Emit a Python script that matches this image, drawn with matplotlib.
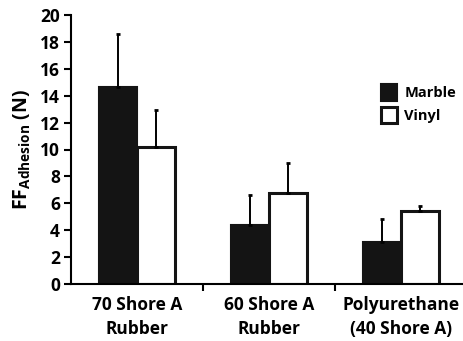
import matplotlib
matplotlib.use("Agg")
import matplotlib.pyplot as plt
import numpy as np

# friction force due to adhesion, mean and upper error per pad material
categories = ["70 Shore A\nRubber", "60 Shore A\nRubber", "Polyurethane\n(40 Shore A)"]
marble = [14.65, 4.4, 3.15]
marble_err = [3.95, 2.2, 1.7]
vinyl = [10.2, 6.8, 5.45]
vinyl_err = [2.7, 2.2, 0.33]

plt.rcParams["font.family"] = ["Open Sans", "DejaVu Sans"]
plt.rcParams["font.weight"] = "bold"
plt.rcParams["mathtext.fontset"] = "custom"
plt.rcParams["mathtext.rm"] = "Open Sans:bold"
plt.rcParams["mathtext.bf"] = "Open Sans:bold"

fig = plt.figure(figsize=(4.63, 3.41), dpi=100)
ax = fig.add_axes([71 / 463, 1 - 284 / 341, 396 / 463, 269 / 341])

x = np.arange(len(categories))
w = 0.29
ek = dict(elinewidth=1.4, capsize=1.2, capthick=2, ecolor="black")
ax.bar(x - w / 2, marble, w, color="#141414", edgecolor="#141414", linewidth=1.5,
       label="Marble")
ax.errorbar(x - w / 2, marble, yerr=[np.zeros(3), marble_err], fmt="none", **ek)
ax.bar(x + w / 2, vinyl, w, color="white", edgecolor="#141414", linewidth=2.2,
       label="Vinyl")
ax.errorbar(x + w / 2, vinyl, yerr=[np.zeros(3), vinyl_err], fmt="none", **ek)

ax.set_xlim(-0.5, 2.5)
ax.set_ylim(0, 20)
ax.set_yticks(range(0, 21, 2))
ax.set_xticks(x)
ax.set_xticklabels(categories, fontsize=12.5, fontweight="bold", linespacing=1.4)
ax.set_xticks([0.5, 1.5], minor=True)
ax.tick_params(axis="x", which="major", length=0, pad=9)
ax.tick_params(axis="x", which="minor", length=5, width=1.5, direction="out")
ax.tick_params(axis="y", length=5, width=1.5, labelsize=12.5, pad=3)
for lab in ax.get_yticklabels():
    lab.set_fontweight("bold")

for s in ["top", "right"]:
    ax.spines[s].set_visible(False)
for s in ["left", "bottom"]:
    ax.spines[s].set_linewidth(1.5)

ax.set_ylabel(r"$\mathrm{FF}_{\mathrm{Adhesion}}$ (N)", fontsize=14, fontweight="bold",
              labelpad=5)

ax.legend(loc="upper left", bbox_to_anchor=(0.757, 0.78), frameon=False,
          borderpad=0.2, handlelength=1.1, handleheight=1.35, handletextpad=0.5,
          labelspacing=0.4, prop={"weight": "bold", "size": 10.5})

fig.savefig("out.png", dpi=100)
